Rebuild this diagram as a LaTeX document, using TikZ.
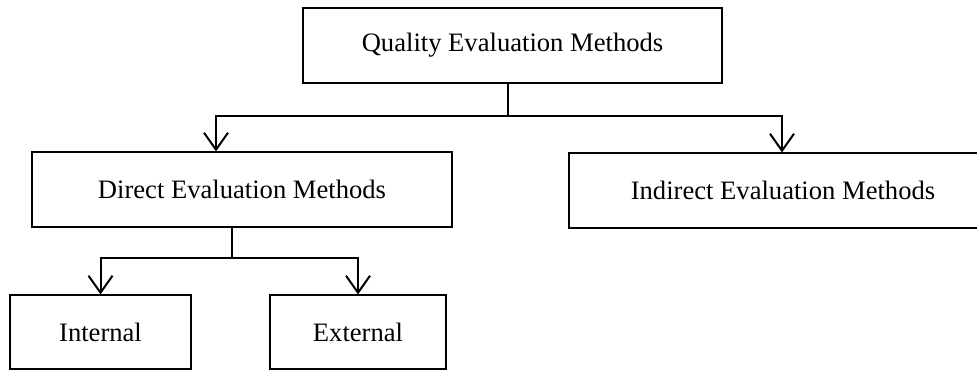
\documentclass[tikz,border=0pt]{standalone}
\usepackage{fontspec}
\setmainfont{Liberation Serif}
\usetikzlibrary{arrows.meta}
\begin{document}
\begin{tikzpicture}[x=1pt,y=-1pt,
  box/.style={draw, line width=1.1pt, inner sep=0pt, font=\fontsize{26.6}{31}\selectfont},
  conn/.style={line width=2pt, line join=miter},
  arr/.style={conn, -{Straight Barb[length=17pt,width=24pt,line width=2pt]}}]
\useasboundingbox (0,0) rectangle (977,370);
\clip (0,0) rectangle (977,370);
\node[box, minimum width=419pt, minimum height=75pt] (top) at (512.5,45.5) {Quality Evaluation Methods};
\node[box, minimum width=420pt, minimum height=75pt] (direct) at (242,189.5) {Direct Evaluation Methods};
\node[box, minimum width=428pt, minimum height=75pt] (indirect) at (783,190.5) {Indirect Evaluation Methods};
\node[box, minimum width=181pt, minimum height=74pt] (internal) at (100.5,332) {Internal};
\node[box, minimum width=176pt, minimum height=74pt] (external) at (358,332) {External};
\coordinate (j1) at (508,116);
\coordinate (ja) at (216,116);
\coordinate (jb) at (782,116);
\coordinate (j2) at (232,258);
\draw[conn] (top.south -| j1) -- (j1);
\draw[arr] (j1) -- (ja) -- (ja |- direct.north);
\draw[arr] (j1) -- (jb) -- (jb |- indirect.north);
\draw[conn] (direct.south -| j2) -- (j2);
\draw[arr] (j2) -| (internal.north);
\draw[arr] (j2) -| (external.north);
\end{tikzpicture}
\end{document}
